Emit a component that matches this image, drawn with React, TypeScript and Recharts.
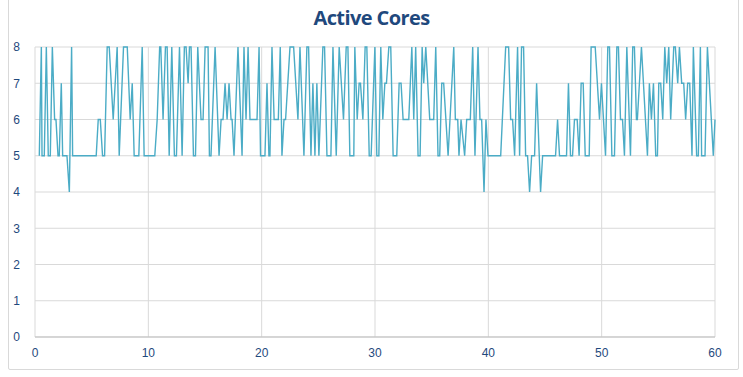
import { LineChart, Line, XAxis, YAxis, CartesianGrid } from "recharts";

// time stamps (s) of the line's vertices
const seconds = [
  0.38, 0.56, 0.62, 0.82, 1.0, 1.17, 1.35, 1.53, 1.73, 1.85, 2.03, 2.14, 2.32, 2.44, 2.82, 3.03, 3.23, 3.32,
  5.4, 5.58, 5.76, 5.96, 6.14, 6.37, 6.55, 6.9, 7.25, 7.43, 7.81, 8.14, 8.4, 8.58, 8.75, 9.16, 9.46, 9.63,
  10.57, 10.78, 11.0, 11.1, 11.3, 11.51, 11.66, 11.84, 12.07, 12.3, 12.48, 12.75, 12.98, 13.18, 13.33, 13.51,
  13.63, 13.77, 13.98, 14.16, 14.36, 14.65, 14.83, 15.01, 15.27, 15.39, 15.53, 15.89, 16.24, 16.42, 16.59,
  16.77, 16.95, 17.12, 17.3, 17.39, 17.56, 17.91, 18.27, 18.44, 18.62, 18.8, 18.97, 19.59, 19.77,
  19.9, 20.29, 20.47, 20.64, 20.73, 20.91, 21.1, 21.47, 21.64, 21.79, 21.97, 22.11, 22.5, 22.82, 23.2, 23.38,
  23.73, 23.99, 24.14, 24.35, 24.52, 24.7, 24.87, 25.05, 25.4, 25.55, 25.76, 26.11, 26.29, 26.58, 26.84,
  27.22, 27.46, 27.61, 27.78, 28.13, 28.22, 28.43, 28.6, 28.72, 28.93, 29.13, 29.28, 29.49, 29.66,
  29.99, 30.16, 30.34, 30.51, 30.69, 30.87, 31.01, 31.22, 31.39, 31.6, 31.92, 32.13, 32.3, 32.48, 32.98,
  33.25, 33.42, 33.59, 33.8, 33.98, 34.16, 34.3, 34.48, 34.83, 35.18, 35.36, 35.56, 35.71, 35.89, 36.06,
  36.45, 36.95, 37.09, 37.3, 37.41, 37.59, 37.91, 38.09, 38.41, 38.62, 38.82, 39.09, 39.26, 39.41, 39.62,
  39.79, 39.97, 41.09, 41.53, 41.79, 41.97, 42.14, 42.32, 42.58, 42.76, 42.93, 43.11, 43.29, 43.46, 43.64,
  43.82, 44.08, 44.26, 44.61, 44.79, 45.93, 46.11, 46.28, 46.9, 47.07, 47.25, 47.43, 47.6, 47.84, 48.01,
  48.19, 48.37, 48.55, 48.9, 49.07, 49.43, 49.81, 49.98, 50.34, 50.54, 50.69, 50.9, 51.13, 51.34, 51.48,
  51.66, 51.84, 52.01, 52.22, 52.54, 52.74, 52.89, 53.07, 53.15, 53.51, 54.04, 54.21, 54.39, 54.57, 54.77,
  54.92, 55.04, 55.21, 55.39, 55.57, 55.74, 55.92, 56.09, 56.36, 56.5, 56.71, 56.86, 57.06, 57.24, 57.41,
  57.59, 57.77, 57.97, 58.09, 58.38, 58.53, 58.71, 58.82, 59.12, 59.33, 59.85, 60.0,
];

const cores = [
  5, 8, 5, 5, 8, 5, 5, 8, 6, 6, 5, 5, 7, 5, 5, 4, 8, 5,
  5, 6, 6, 5, 5, 8, 8, 6, 8, 5, 8, 8, 6, 7, 5, 5, 8, 5,
  5, 6, 8, 8, 6, 8, 8, 5, 8, 5, 5, 8, 5, 8, 8, 7,
  8, 8, 5, 5, 8, 6, 6, 8, 8, 5, 5, 8, 5, 6, 6,
  7, 6, 7, 6, 6, 5, 8, 5, 8, 6, 8, 6, 6, 8,
  5, 5, 7, 5, 5, 8, 6, 6, 8, 5, 6, 6, 8, 8, 6, 8,
  5, 8, 8, 5, 7, 5, 7, 5, 8, 8, 5, 5, 8, 5, 8,
  6, 8, 8, 5, 5, 8, 6, 7, 7, 6, 8, 8, 5, 5,
  8, 5, 5, 8, 6, 7, 7, 8, 8, 5, 5, 7, 7, 6, 6,
  8, 6, 8, 5, 5, 8, 7, 8, 6, 6, 8, 5, 5, 7, 7,
  5, 8, 6, 6, 5, 6, 5, 6, 6, 8, 5, 8, 6, 6, 4,
  6, 5, 5, 8, 8, 6, 6, 5, 8, 5, 8, 8, 5, 5, 4,
  5, 5, 7, 4, 5, 5, 6, 5, 5, 7, 5, 5, 6, 6, 5,
  7, 7, 5, 5, 8, 8, 6, 7, 5, 8, 8, 5, 5, 8, 8,
  6, 6, 5, 8, 5, 8, 8, 6, 6, 8, 5, 7, 6, 7, 5,
  5, 7, 7, 6, 8, 7, 8, 6, 8, 8, 7, 8, 7, 7, 6,
  7, 7, 5, 8, 5, 5, 8, 5, 5, 8, 5, 6,
];

const xTicks = [0, 10, 20, 30, 40, 50, 60];
const yTicks = [0, 1, 2, 3, 4, 5, 6, 7, 8];

const data = seconds.map((t, i) => ({ t, cores: cores[i] }));

const tickStyle = { fontSize: 12, fill: "#1F497D", fontFamily: "Liberation Sans, Arial, sans-serif" };

export default function App() {
  return (
    <div style={{ position: "absolute", left: 0, top: 0, width: 743, height: 377, background: "#fff" }}>
      <div
        style={{
          position: "absolute",
          left: 8,
          top: -2,
          width: 729,
          height: 370,
          border: "1px solid #d9d9d9",
          borderRadius: 2,
        }}
      />
      <div
        style={{
          position: "absolute",
          left: 0,
          top: 4,
          width: 743,
          textAlign: "center",
          fontFamily: "Open Sans, sans-serif",
          fontWeight: 700,
          fontSize: 20,
          color: "#1F497D",
          letterSpacing: -0.6,
        }}
      >
        Active Cores
      </div>
      <LineChart
        width={743}
        height={377}
        data={data}
        margin={{ top: 47, right: 28, left: 5, bottom: 10 }}
        style={{ position: "absolute", left: 0, top: 0 }}
      >
        <CartesianGrid stroke="#d9d9d9" strokeWidth={1} />
        <XAxis
          dataKey="t"
          type="number"
          domain={[0, 60]}
          ticks={xTicks}
          tick={tickStyle}
          tickLine={false}
          tickSize={0}
          tickMargin={11}
          height={30}
          axisLine={{ stroke: "#bfbfbf" }}
        />
        <YAxis
          type="number"
          domain={[0, 8]}
          ticks={yTicks}
          tick={tickStyle}
          tickLine={false}
          tickSize={0}
          tickMargin={15}
          width={30}
          axisLine={false}
        />
        <Line
          type="linear"
          dataKey="cores"
          stroke="#4BACC6"
          strokeWidth={1.4}
          dot={false}
          isAnimationActive={false}
        />
      </LineChart>
    </div>
  );
}
